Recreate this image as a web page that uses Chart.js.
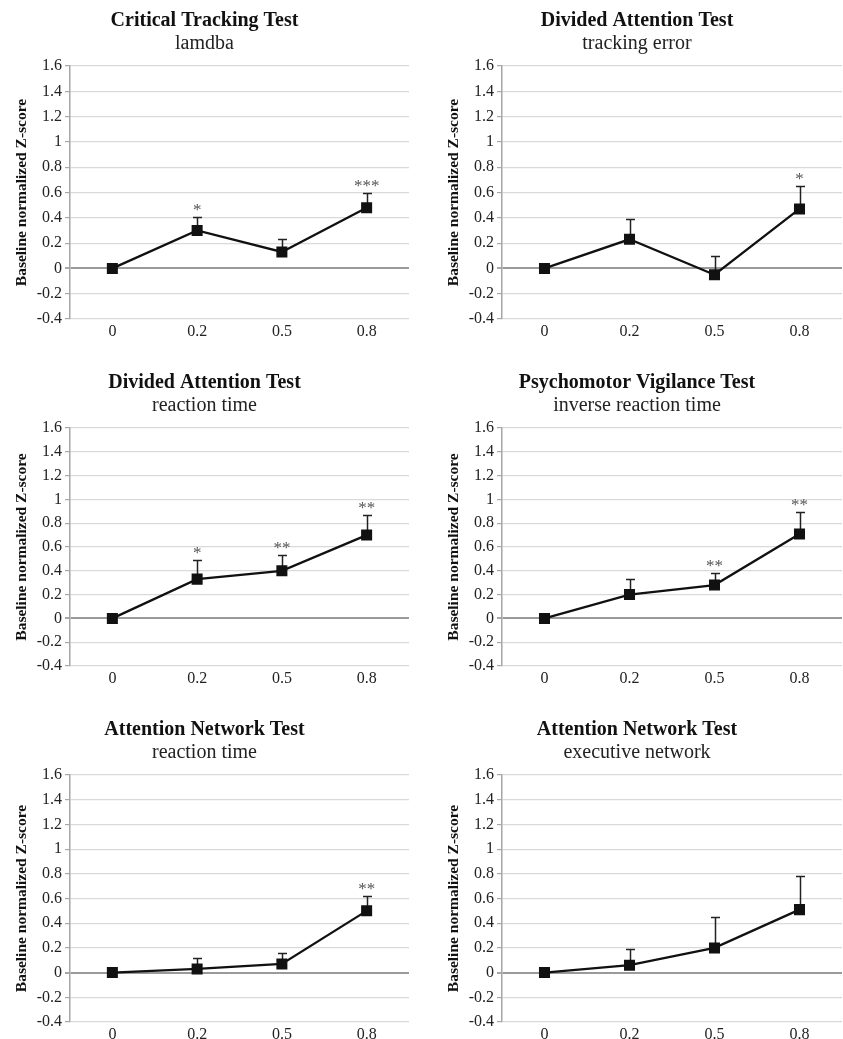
<!DOCTYPE html>
<html><head><meta charset="utf-8">
<script src="https://cdn.jsdelivr.net/npm/chart.js@4.4.0/dist/chart.umd.min.js"></script>
<style>
html,body{margin:0;padding:0;background:#fff;overflow:hidden;width:843px;height:1039px;position:relative}
canvas{position:absolute}
</style></head><body>
<script>
// ---- data ----
const categories = ['0', '0.2', '0.5', '0.8'];
const yTickLabels = ['-0.4', '-0.2', '0', '0.2', '0.4', '0.6', '0.8', '1', '1.2', '1.4', '1.6'];
const yAxisTitle = 'Baseline normalized Z-score';

const cttTitle = ['Critical Tracking Test', 'lamdba'];
const cttValues = [0, 0.30, 0.13, 0.48];
const cttErrors = [null, 0.11, 0.10, 0.12];
const cttSig = ['', '*', '', '***'];

const datTrackTitle = ['Divided Attention Test', 'tracking error'];
const datTrackValues = [0, 0.23, -0.05, 0.47];
const datTrackErrors = [null, 0.16, 0.15, 0.18];
const datTrackSig = ['', '', '', '*'];

const datRtTitle = ['Divided Attention Test', 'reaction time'];
const datRtValues = [0, 0.33, 0.40, 0.70];
const datRtErrors = [null, 0.16, 0.13, 0.17];
const datRtSig = ['', '*', '**', '**'];

const pvtTitle = ['Psychomotor Vigilance Test', 'inverse reaction time'];
const pvtValues = [0, 0.20, 0.28, 0.71];
const pvtErrors = [null, 0.13, 0.10, 0.18];
const pvtSig = ['', '', '**', '**'];

const antRtTitle = ['Attention Network Test', 'reaction time'];
const antRtValues = [0, 0.03, 0.07, 0.50];
const antRtErrors = [null, 0.09, 0.09, 0.12];
const antRtSig = ['', '', '', '**'];

const antExecTitle = ['Attention Network Test', 'executive network'];
const antExecValues = [0, 0.06, 0.20, 0.51];
const antExecErrors = [null, 0.13, 0.25, 0.27];
const antExecSig = ['', '', '', ''];

// ---- layout ----
const SERIF = '"Liberation Serif", "Times New Roman", serif';
const colLeft = [0, 432];
const colWidth = [412, 411];
const colPadRight = [3, 1];
const rowTop = [-1, 361, 708];
const rowPlotH = [253, 238, 247];
const PLOT_TOP = 67, XAXIS_H = 22, YAXIS_W = 70;

const panels = [
  {title: cttTitle, values: cttValues, errors: cttErrors, sig: cttSig, row: 0, col: 0},
  {title: datTrackTitle, values: datTrackValues, errors: datTrackErrors, sig: datTrackSig, row: 0, col: 1},
  {title: datRtTitle, values: datRtValues, errors: datRtErrors, sig: datRtSig, row: 1, col: 0},
  {title: pvtTitle, values: pvtValues, errors: pvtErrors, sig: pvtSig, row: 1, col: 1},
  {title: antRtTitle, values: antRtValues, errors: antRtErrors, sig: antRtSig, row: 2, col: 0},
  {title: antExecTitle, values: antExecValues, errors: antExecErrors, sig: antExecSig, row: 2, col: 1}
];

function makeErrorPlugin(p) {
  return {
    id: 'errbars',
    beforeDatasetsDraw(chart) {
      const {ctx, scales: {x, y}} = chart;
      ctx.save();
      ctx.strokeStyle = '#222';
      ctx.lineWidth = 1.5;
      p.values.forEach((v, i) => {
        const e = p.errors[i];
        if (e == null) return;
        const px = Math.round(x.getPixelForValue(i)) + 0.5;
        const y0 = y.getPixelForValue(v);
        const y1 = Math.round(y.getPixelForValue(v + e)) + 0.5;
        ctx.beginPath();
        ctx.moveTo(px, y0); ctx.lineTo(px, y1);
        ctx.moveTo(px - 4.5, y1); ctx.lineTo(px + 4.5, y1);
        ctx.stroke();
      });
      ctx.restore();
    },
    afterDatasetsDraw(chart) {
      const {ctx, scales: {x, y}} = chart;
      ctx.save();
      ctx.fillStyle = '#555';
      ctx.font = '17px ' + SERIF;
      ctx.textAlign = 'center';
      ctx.textBaseline = 'alphabetic';
      p.sig.forEach((s, i) => {
        if (!s) return;
        const top = y.getPixelForValue(p.values[i] + (p.errors[i] || 0));
        ctx.fillText(s, x.getPixelForValue(i), top - 2);
      });
      ctx.restore();
    }
  };
}

panels.forEach(p => {
  const cv = document.createElement('canvas');
  const w = colWidth[p.col];
  const h = PLOT_TOP + rowPlotH[p.row] + XAXIS_H;
  cv.width = w; cv.height = h;
  cv.style.left = colLeft[p.col] + 'px';
  cv.style.top = rowTop[p.row] + 'px';
  cv.style.width = w + 'px'; cv.style.height = h + 'px';
  document.body.appendChild(cv);

  new Chart(cv, {
    type: 'line',
    data: {
      labels: categories,
      datasets: [{
        data: p.values,
        borderColor: '#111',
        borderWidth: 2.3,
        tension: 0,
        pointStyle: 'rect',
        pointRadius: 7.8,
        pointBackgroundColor: '#111',
        pointBorderColor: '#111',
        pointBorderWidth: 0
      }]
    },
    plugins: [makeErrorPlugin(p)],
    options: {
      responsive: false,
      animation: false,
      devicePixelRatio: 1,
      layout: {autoPadding: false, padding: {top: 0, left: 0, bottom: 0, right: colPadRight[p.col]}},
      plugins: {
        legend: {display: false},
        tooltip: {enabled: false},
        title: {
          display: true, text: p.title[0], color: '#111',
          font: {family: SERIF, size: 20, weight: 'bold', lineHeight: 1.1},
          padding: {top: 11, bottom: 1}
        },
        subtitle: {
          display: true, text: p.title[1], color: '#222',
          font: {family: SERIF, size: 20, weight: 'normal', lineHeight: 1.1},
          padding: {top: 0, bottom: 11}
        }
      },
      scales: {
        x: {
          type: 'category',
          offset: true,
          grid: {display: false, drawTicks: false},
          border: {display: false},
          ticks: {color: '#222', font: {family: SERIF, size: 16}, padding: 3, maxRotation: 0},
          afterFit: s => { s.height = XAXIS_H; s.paddingLeft = 0; s.paddingRight = 0; }
        },
        y: {
          min: -0.4, max: 1.6,
          ticks: {
            stepSize: 0.2,
            color: '#222',
            font: {family: SERIF, size: 16},
            padding: 3,
            callback: (v, i) => yTickLabels[i]
          },
          grid: {
            color: c => (c.tick && Math.abs(c.tick.value) < 1e-9) ? '#9a9a9a' : '#d9d9d9',
            lineWidth: c => (c.tick && Math.abs(c.tick.value) < 1e-9) ? 2 : 1.2,
            tickLength: 5,
            tickColor: '#a8a8a8',
            drawTicks: true
          },
          border: {display: true, color: '#a6a6a6', width: 1.5},
          title: {
            display: true, text: yAxisTitle, color: '#111',
            font: {family: SERIF, size: 15.5, weight: 'bold', lineHeight: 1.2},
            padding: {top: 13, bottom: 0}
          },
          afterFit: s => { s.width = YAXIS_W; }
        }
      }
    }
  });
});
</script>
</body></html>
